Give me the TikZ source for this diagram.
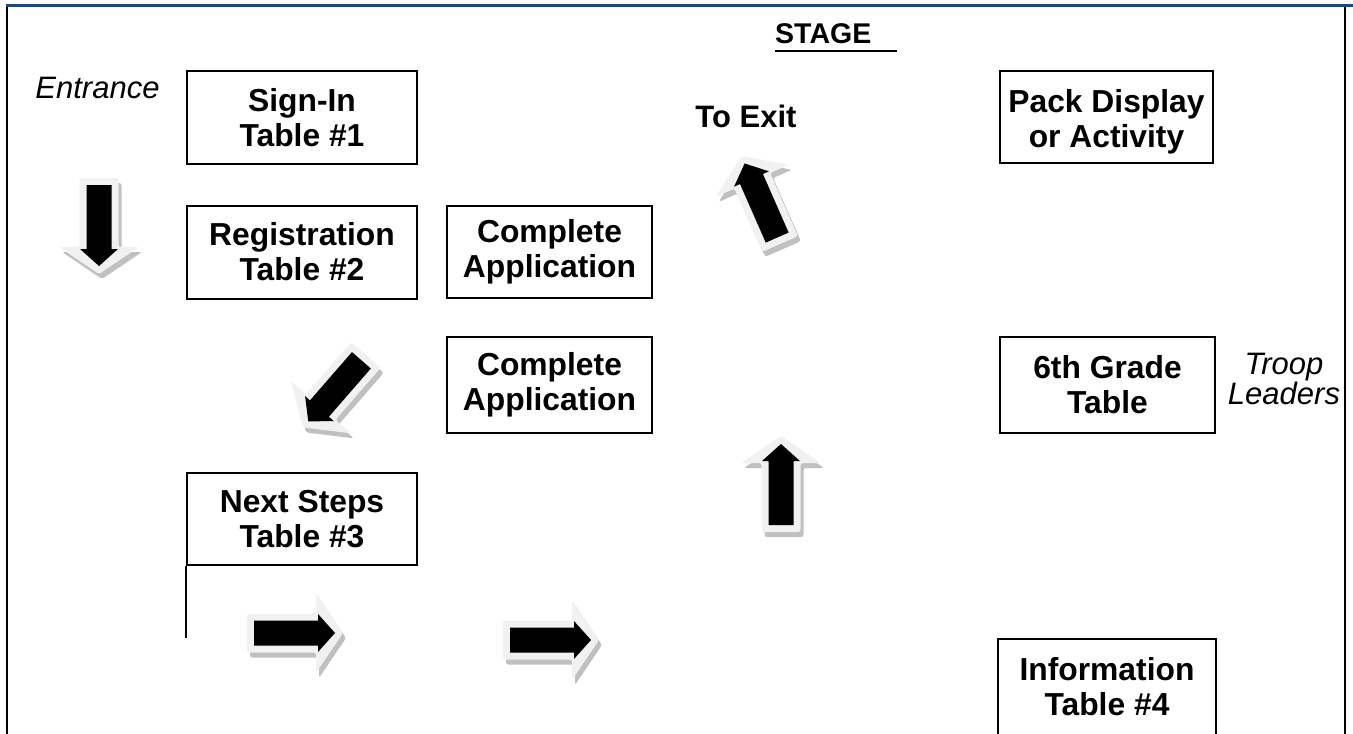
\documentclass[tikz,border=0pt]{standalone}
\usepackage{fontspec}
\setmainfont{Liberation Sans}
\definecolor{stageblue}{RGB}{31,73,125}
\definecolor{arrowlight}{RGB}{241,241,241}
\definecolor{arrowshadow}{RGB}{192,192,192}
\newcommand{\outerarrowshape}[1]{%
  \fill[#1,rounded corners=2.5pt] (0,-19.5) -- (69,-19.5) -- (69,-40) -- (96,0) -- (69,40) -- (69,19.5) -- (0,19.5) -- cycle;}
\newcommand{\innerarrowshape}{%
  \fill[black] (7,-12.5) -- (71,-12.5) -- (71,-19) -- (88,0) -- (71,19) -- (71,12.5) -- (7,12.5) -- cycle;}
\newcommand{\flowarrow}[3]{%
  \begin{scope}[shift={(#1,#2)},shift={(3,5)},rotate=#3]\outerarrowshape{arrowshadow}\end{scope}
  \begin{scope}[shift={(#1,#2)},rotate=#3]\outerarrowshape{arrowlight}\innerarrowshape\end{scope}}
\begin{document}
\begin{tikzpicture}[x=1pt,y=-1pt,
  tbl/.style={draw,line width=2pt,minimum width=230pt,minimum height=93pt,align=center,
    font=\bfseries\fontsize{31.8}{35}\selectfont,inner sep=0pt},
  boldtxt/.style={align=center,font=\bfseries\fontsize{31.8}{35}\selectfont,inner sep=0pt},
  lbl/.style={align=center,font=\itshape\fontsize{31}{28}\selectfont,inner sep=0pt},
  frame/.style={line width=2pt}]
\useasboundingbox (0,0) rectangle (1353,734);
% frame
\draw[frame] (7,6) -- (7,740);
\draw[frame] (1345,6) -- (1345,740);
\draw[stageblue,line width=3pt] (5.5,5) -- (1353,5);
% stage
\node[font=\bfseries\fontsize{28.5}{30}\selectfont,anchor=base west,inner sep=0pt] (stage) at (775,43) {STAGE};
\draw[line width=2.5pt] (stage.base west) ++(0,8) -- ++(122,0);
% labels
\node[lbl,anchor=base] (entrance) at (97.5,98) {Entrance};
\node[boldtxt,anchor=base,font=\bfseries\fontsize{31}{35}\selectfont] (exit) at (746,127) {To Exit};
\node[lbl] (troop) at (1284,379) {Troop\\Leaders};
% tables
\node[tbl] (signin) at (302,117.5) {Sign-In\\Table \#1};
\node[tbl] (reg) at (302,252) {Registration\\Table \#2};
\node[tbl,minimum width=205pt,minimum height=92pt] (app1) at (549.5,252) {Complete\\Application};
\node[tbl,minimum width=205pt,minimum height=96pt] (app2) at (549.5,385) {Complete\\Application};
\node[tbl,minimum height=92pt] (next) at (302,519) {Next Steps\\Table \#3};
\draw[frame] (next.south west) -- ++(0,72);
\node[tbl,minimum width=213pt,minimum height=92pt] (pack) at (1106.5,117) {};
\node[boldtxt] (packtext) at ([yshift=-5pt]pack.center) {Pack Display\\ or Activity};
\node[tbl,minimum width=215pt,minimum height=96pt] (sixth) at (1107.5,385) {6th Grade\\Table};
\node[boldtxt] (info) at (1107,686.5) {Information\\Table \#4};
\draw[frame] (998,740) -- (998,639) -- (1216,639) -- (1216,740);
% arrows
\flowarrow{99}{178}{270}
\flowarrow{366}{355}{229}
\flowarrow{780}{244}{113.7}
\flowarrow{781}{532}{90}
\flowarrow{247}{633}{0}
\flowarrow{503}{640}{0}
\end{tikzpicture}
\end{document}
